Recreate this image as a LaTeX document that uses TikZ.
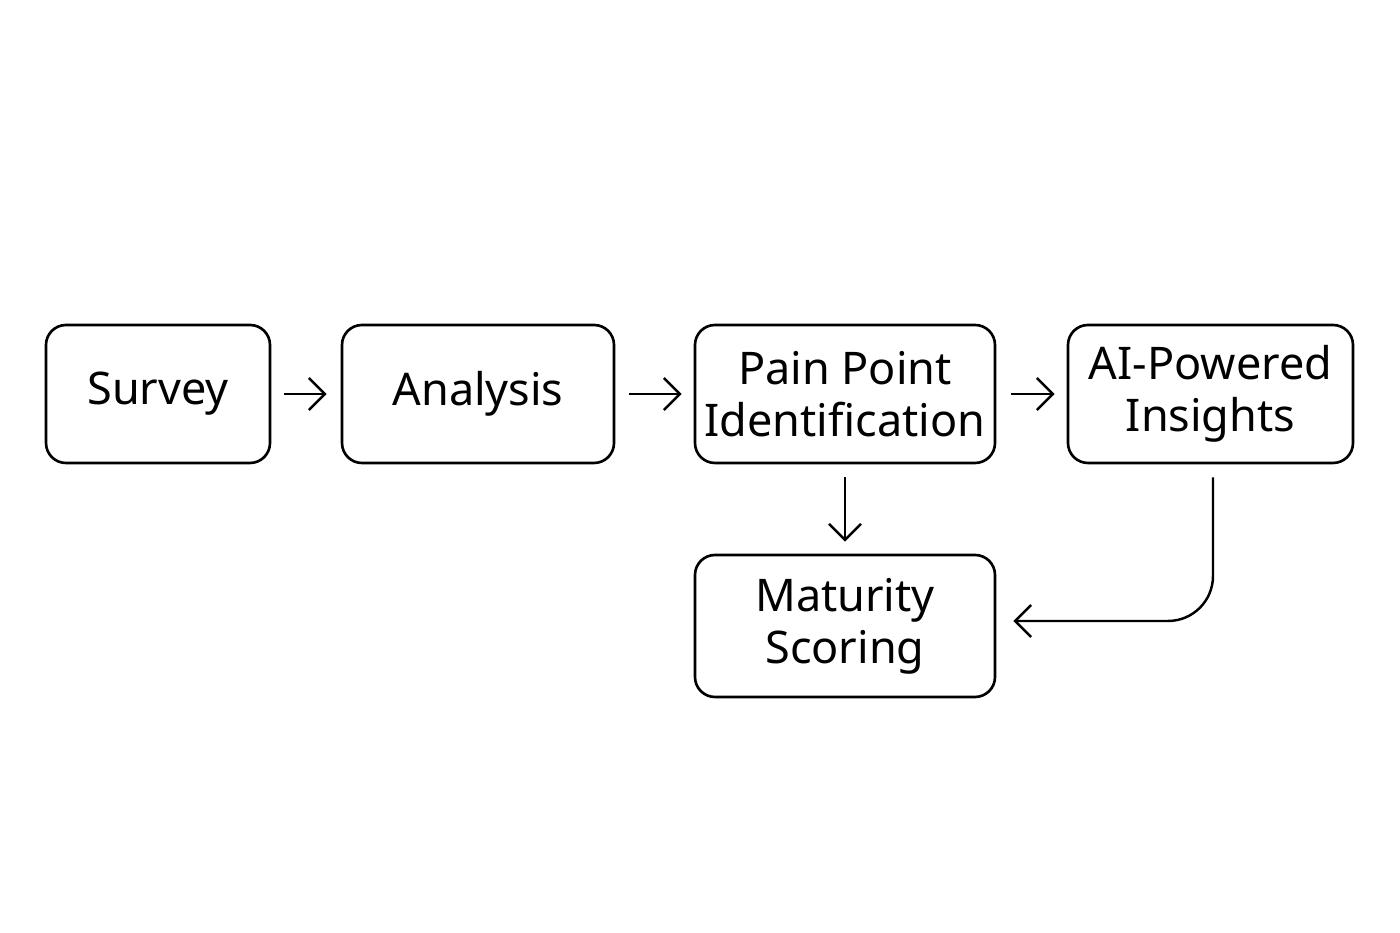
\documentclass[tikz,border=0pt]{standalone}
\usepackage{fontspec}
\setmainfont{Noto Sans}
\usetikzlibrary{arrows.meta}
\tikzset{
  stage/.style={draw, line width=0.75pt, rounded corners=0.2cm, align=center,
    font=\fontsize{12.8}{14.8}\selectfont, inner sep=0pt},
  flow/.style={line width=0.7pt, -{Straight Barb[length=1.6mm,width=3.2mm]}}
}
\begin{document}
\begin{tikzpicture}
    \useasboundingbox (0,0) rectangle (14,9.33);
    \node[stage, minimum width=2.24cm, minimum height=1.38cm] (survey) at (1.58,5.39) {Survey};
    \node[stage, minimum width=2.72cm, minimum height=1.38cm] (analysis) at (4.78,5.39) {Analysis};
    \node[stage, minimum width=3.00cm, minimum height=1.38cm] (pain) at (8.45,5.39) {Pain Point\\Identification};
    \node[stage, minimum width=2.85cm, minimum height=1.38cm] (ai) at (12.105,5.39) {AI-Powered\\Insights};
    \node[stage, minimum width=3.00cm, minimum height=1.42cm] (mat) at (8.45,3.07) {Maturity\\Scoring};
    \draw[flow, shorten <=0.13cm, shorten >=0.14cm] (survey) -- (analysis);
    \draw[flow, shorten <=0.14cm, shorten >=0.12cm] (analysis) -- (pain);
    \draw[flow, shorten <=0.15cm, shorten >=0.12cm] (pain) -- (ai);
    \draw[flow, shorten <=0.13cm, shorten >=0.12cm] (pain) -- (mat);
    \coordinate (top) at ([xshift=0.025cm, yshift=-0.13cm]ai.south);
    \coordinate (bend) at (top |- mat.east);
    \coordinate (end) at ([xshift=0.17cm, yshift=0.05cm]mat.east);
    \draw[flow, rounded corners=0.45cm] (top) -- ([yshift=0.05cm]bend) -- (end);
\end{tikzpicture}
\end{document}
